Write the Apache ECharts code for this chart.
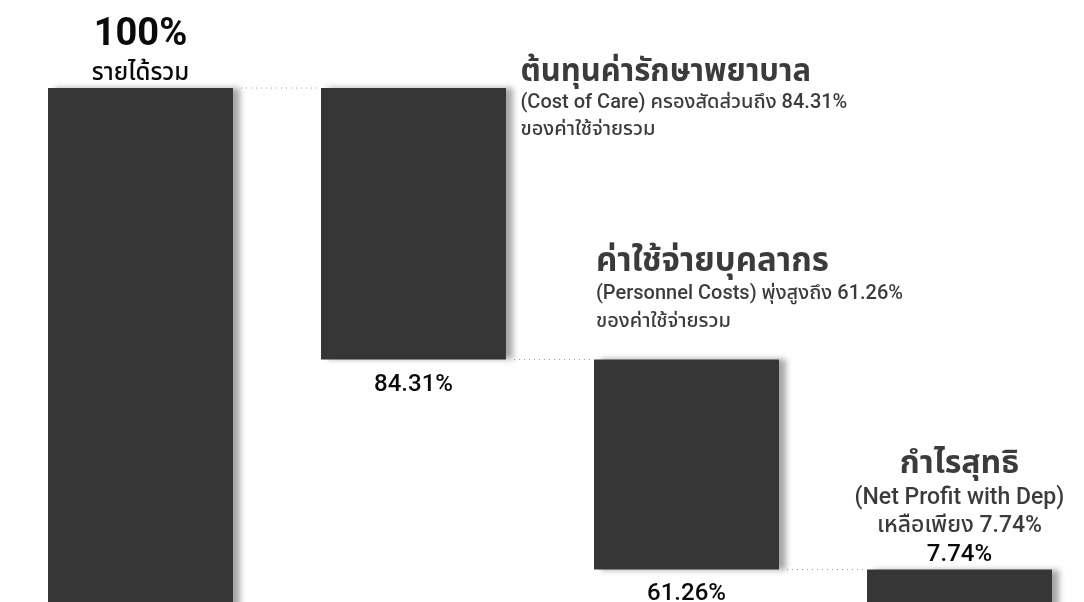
<!DOCTYPE html>
<html>
<head>
<meta charset="utf-8">
<script src="https://cdn.jsdelivr.net/npm/echarts@6/dist/echarts.min.js"></script>
<style>
html,body{margin:0;padding:0;background:#fff;}
#chart{width:1084px;height:602px;}
</style>
</head>
<body>
<div id="chart"></div>
<script>
// ---- data ----
const categories = ['รายได้รวม', 'ต้นทุนค่ารักษาพยาบาล', 'ค่าใช้จ่ายบุคลากร', 'กำไรสุทธิ'];
const shareValues = [100, 84.31, 61.26, 7.74];          // printed percentages
const barStart = [0, 48, 7.74, 0];                       // drawn bar bottoms (chart units)
const barEnd = [100, 100, 48, 7.74];                     // drawn bar tops (chart units)
const titles = ['รายได้รวม', 'ต้นทุนค่ารักษาพยาบาล', 'ค่าใช้จ่ายบุคลากร', 'กำไรสุทธิ'];
const subLines1 = ['', '(Cost of Care) ครองสัดส่วนถึง 84.31%', '(Personnel Costs) พุ่งสูงถึง 61.26%', '(Net Profit with Dep)'];
const subLines2 = ['', 'ของค่าใช้จ่ายรวม', 'ของค่าใช้จ่ายรวม', 'เหลือเพียง 7.74%'];

const FONT = 'Roboto, "Noto Sans", "Noto Sans Thai", "DejaVu Sans", sans-serif';
const INK = '#0a0a0a';
const BAR = '#363636';

const chart = echarts.init(document.getElementById('chart'), null, {renderer: 'canvas'});

const pct = v => String(v) + '%';

// value-series labels (the percent under/over each bar)
const valueLabelCfg = [
  { show: true, position: 'top', distance: 0,
    formatter: () => '{big|' + pct(shareValues[0]) + '}\n{sub|' + titles[0] + '}',
    rich: { big: {fontFamily: FONT, fontSize: 38, fontWeight: 'bold', color: INK, lineHeight: 50},
            sub: {fontFamily: FONT, fontSize: 24, fontWeight: 500, color: INK, lineHeight: 28} } },
  { show: true, position: 'bottom', distance: 14, formatter: () => pct(shareValues[1]),
    fontFamily: FONT, fontSize: 24, fontWeight: 500, color: INK },
  { show: true, position: 'bottom', distance: 12, formatter: () => pct(shareValues[2]),
    fontFamily: FONT, fontSize: 24, fontWeight: 500, color: INK },
  { show: true, position: 'top', distance: 3, formatter: () => pct(shareValues[3]),
    fontFamily: FONT, fontSize: 24, fontWeight: 500, color: INK }
];

const annotCfg = [
  null,
  { position: [107, -32], align: 'left', tSize: 31, tLH: 34, sSize: 20, sLH: 27 },
  { position: [-90.5, -115], align: 'left', tSize: 33, tLH: 36, sSize: 20, sLH: 28 },
  { position: [0, -125], align: 'center', tSize: 32, tLH: 40, sSize: 23, sLH: 28 }
];

const annotData = [];
for (let i = 1; i < categories.length; i++) {
  const c = annotCfg[i];
  annotData.push({
    value: [i, barEnd[i]],
    label: {
      show: true, position: c.position, align: c.align, verticalAlign: 'top',
      formatter: '{t|' + titles[i] + '}\n{s|' + subLines1[i] + '}\n{s|' + subLines2[i] + '}',
      rich: {
        t: {fontFamily: FONT, fontSize: c.tSize, fontWeight: 'bold', color: INK, lineHeight: c.tLH, align: c.align},
        s: {fontFamily: FONT, fontSize: c.sSize, fontWeight: 500, color: INK, lineHeight: c.sLH, align: c.align}
      }
    }
  });
}

const connectors = [];
for (let i = 0; i < categories.length - 1; i++) connectors.push([i, barEnd[i + 1]]);

const option = {
  animation: false,
  backgroundColor: '#ffffff',
  grid: {left: 4, top: 88, width: 1092, height: 522, containLabel: false, outerBoundsMode: 'none'},
  xAxis: {type: 'category', data: categories, show: false},
  yAxis: {type: 'value', min: 0, max: 100, show: false},
  series: [
    {
      type: 'bar', stack: 'w', barWidth: 185, silent: true,
      itemStyle: {color: 'transparent'},
      data: barStart
    },
    {
      type: 'bar', stack: 'w', barWidth: 185,
      itemStyle: {color: BAR, shadowColor: 'rgba(0,0,0,0.35)', shadowBlur: 6, shadowOffsetX: 7},
      data: barEnd.map((e, i) => ({value: e - barStart[i], label: valueLabelCfg[i]}))
    },
    {
      type: 'custom', silent: true, z: 1,
      renderItem: function (params, api) {
        const i = api.value(0), lv = api.value(1);
        const p1 = api.coord([i, lv]);
        const p2 = api.coord([i + 1, lv]);
        const hw = 92.5;
        return {
          type: 'line',
          shape: {x1: p1[0] + hw + 8, y1: p1[1], x2: p2[0] - hw, y2: p2[1]},
          style: {stroke: '#9a9a9a', lineWidth: 1, lineDash: [1, 4]}
        };
      },
      data: connectors
    },
    {
      type: 'scatter', symbolSize: 0.1, silent: true,
      itemStyle: {color: 'rgba(0,0,0,0)'},
      data: annotData
    }
  ]
};
chart.setOption(option);
</script>
</body>
</html>
